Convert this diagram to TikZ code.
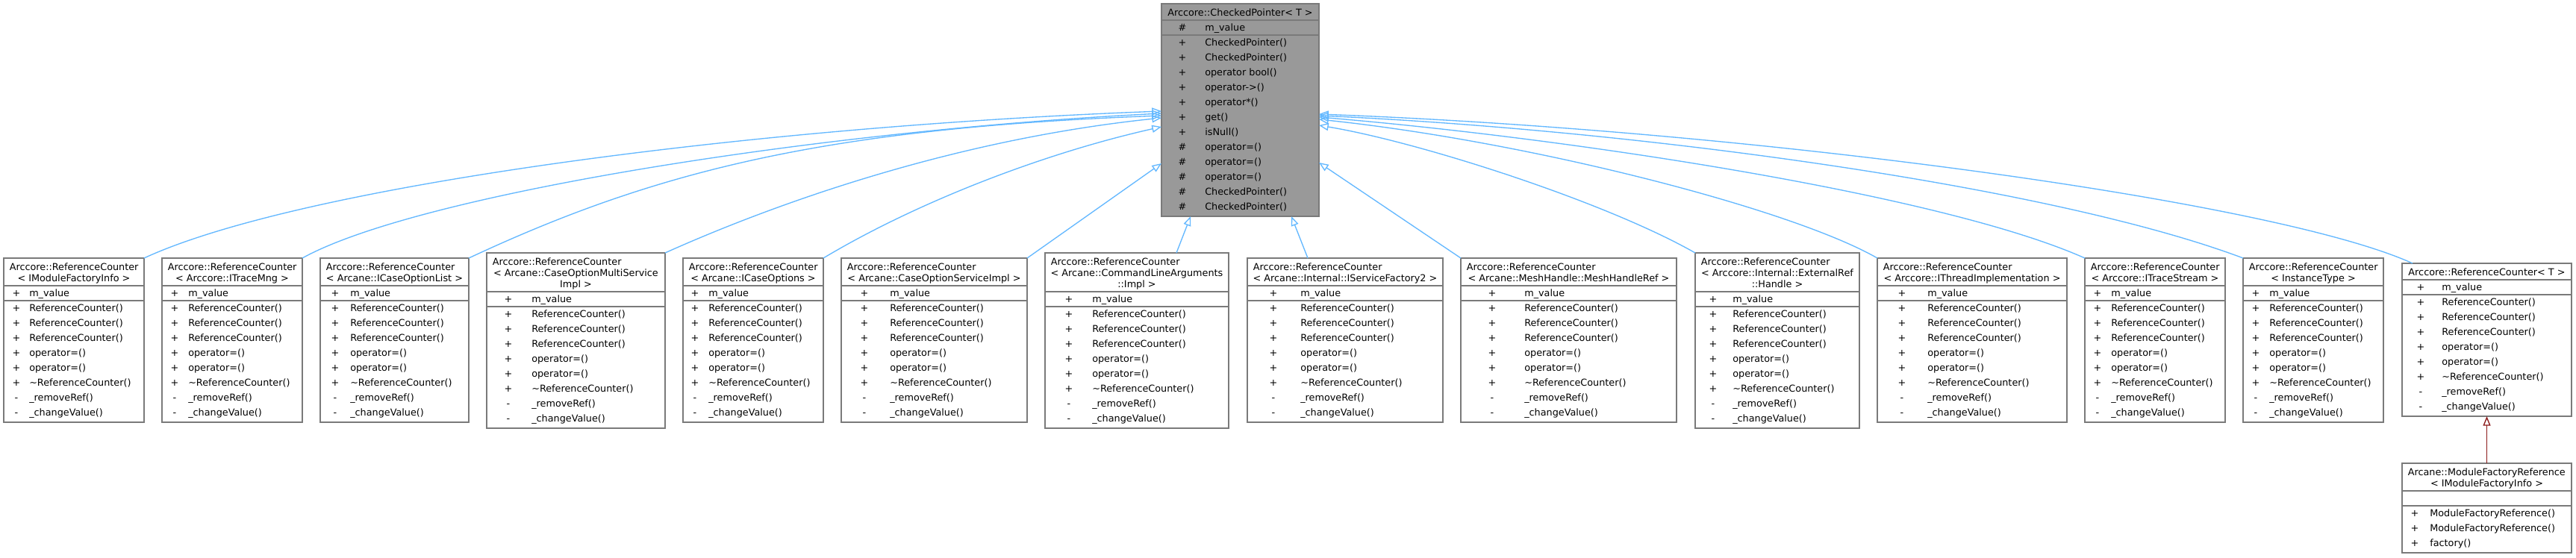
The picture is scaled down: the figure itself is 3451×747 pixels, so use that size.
\documentclass[tikz,border=0pt]{standalone}
\usepackage{fontspec}
\setmainfont{DejaVu Sans}
\usetikzlibrary{arrows.meta,calc}
\definecolor{edgeblue}{HTML}{63B8FF}
\definecolor{edgered}{HTML}{8B1A1A}
\definecolor{boxgray}{HTML}{7A7A7A}
\definecolor{topfill}{HTML}{999999}
\tikzset{
  umlbox/.style={draw=boxgray, line width=1pt, fill=white, inner sep=0pt, outer sep=0pt, anchor=north west},
  sepline/.style={draw=boxgray, line width=1pt},
  txt/.style={inner sep=0pt, font=\fontsize{9.6pt}{11.25pt}\selectfont},
  inh/.style={draw=edgeblue, line width=1pt, -{Triangle[open, length=9.5pt, width=7.5pt]}},
  inhred/.style={draw=edgered, line width=1pt, -{Triangle[open, length=9.5pt, width=7.5pt]}},
}
% #1 name, #2 left, #3 right, #4 top, #5 extra style, #6 symbol offset, #7 text offset, #8 title lines, #9 attributes
\newcommand\classbox[9]{%
  \foreach \tl [count=\i] in {#8} {\xdef\ntl{\i}}%
  \foreach \msym/\mtxt [count=\i] in \meths {\xdef\nme{\i}}%
  \pgfmathsetmacro\sepA{#4+7+15*\ntl}%
  \pgfmathsetmacro\sepB{\sepA+20}%
  \pgfmathsetmacro\boxbot{\sepB+20*\nme+3}%
  \node[umlbox,#5,minimum width={(#3-#2)*0.75pt},minimum height={(\boxbot-#4)*0.75pt}] (#1) at (#2,#4) {};%
  \draw[sepline] (#2,\sepA) -- (#3,\sepA);%
  \draw[sepline] (#2,\sepB) -- (#3,\sepB);%
  \foreach \tl [count=\i] in {#8} {%
    \pgfmathsetmacro\yy{#4+12+15*(\i-1)+4.5}%
    \ifnum\i=1 \ifnum\ntl>1
      \node[txt,anchor=base west] (#1-t\i) at (#2+7.5,\yy) {\tl};
    \else
      \node[txt,anchor=base] (#1-t\i) at ({(#2+#3)/2},\yy) {\tl};
    \fi\else
      \node[txt,anchor=base] (#1-t\i) at ({(#2+#3)/2},\yy) {\tl};
    \fi
  }%
  \if\relax\detokenize{#9}\relax\else
  \foreach \msym/\mtxt [count=\i] in {#9} {%
    \pgfmathsetmacro\yy{\sepA+14.5+20*(\i-1)}%
    \node[txt,anchor=base] (#1-as\i) at (#2+#6,\yy) {\msym};
    \node[txt,anchor=base west] (#1-a\i) at (#2+#7,\yy) {\mtxt};
  }\fi
  \foreach \msym/\mtxt [count=\i] in \meths {%
    \pgfmathsetmacro\yy{\sepB+14.5+20*(\i-1)}%
    \node[txt,anchor=base] (#1-ms\i) at (#2+#6,\yy) {\msym};
    \node[txt,anchor=base west] (#1-m\i) at (#2+#7,\yy) {\mtxt};
  }%
}
\def\rcmeths{+/ReferenceCounter(), +/ReferenceCounter(), +/ReferenceCounter(), +/operator=(), +/operator=(), +/\textasciitilde ReferenceCounter(), -/\_removeRef(), -/\_changeValue()}
\begin{document}
\begin{tikzpicture}[x=0.75pt,y=-0.75pt]
\fill[white] (0,0) rectangle (3451,747);
\useasboundingbox (0,0) rectangle (3451,747);

\def\meths{+/CheckedPointer(), +/CheckedPointer(), +/operator bool(), +/operator->(), +/operator*(), +/get(), +/isNull(), \#/operator=(), \#/operator=(), \#/operator=(), \#/CheckedPointer(), \#/CheckedPointer()}
\classbox{top}{1556}{1767}{5}{fill=topfill}{28}{58}{Arccore::CheckedPointer< T >}{\#/m\_value}

\let\meths\rcmeths
\classbox{c1}{5}{193}{346}{}{17}{34}{Arccore::ReferenceCounter, < IModuleFactoryInfo >}{+/m\_value}
\classbox{c2}{217}{405}{346}{}{17}{35}{Arccore::ReferenceCounter, < Arccore::ITraceMng >}{+/m\_value}
\classbox{c3}{429}{628}{346}{}{20}{40}{Arccore::ReferenceCounter, < Arcane::ICaseOptionList >}{+/m\_value}
\classbox{c4}{652}{891}{339}{}{29}{60}{Arccore::ReferenceCounter, < Arcane::CaseOptionMultiService, Impl >}{+/m\_value}
\classbox{c5}{915}{1103}{346}{}{16}{34}{Arccore::ReferenceCounter, < Arcane::ICaseOptions >}{+/m\_value}
\classbox{c6}{1127}{1376}{346}{}{31}{65}{Arccore::ReferenceCounter, < Arcane::CaseOptionServiceImpl >}{+/m\_value}
\classbox{c7}{1400}{1646}{339}{}{32}{63}{Arccore::ReferenceCounter, < Arcane::CommandLineArguments, ::Impl >}{+/m\_value}
\classbox{c8}{1671}{1933}{346}{}{35}{71}{Arccore::ReferenceCounter, < Arcane::Internal::IServiceFactory2 >}{+/m\_value}
\classbox{c9}{1957}{2246}{346}{}{42}{85}{Arccore::ReferenceCounter, < Arcane::MeshHandle::MeshHandleRef >}{+/m\_value}
\classbox{c10}{2271}{2491}{339}{}{24}{50}{Arccore::ReferenceCounter, < Arccore::Internal::ExternalRef, ::Handle >}{+/m\_value}
\classbox{c11}{2515}{2769}{346}{}{33}{67}{Arccore::ReferenceCounter, < Arccore::IThreadImplementation >}{+/m\_value}
\classbox{c12}{2793}{2981}{346}{}{17}{35}{Arccore::ReferenceCounter, < Arccore::ITraceStream >}{+/m\_value}
\classbox{c13}{3005}{3193}{346}{}{17}{35}{Arccore::ReferenceCounter, < InstanceType >}{+/m\_value}
\classbox{c14}{3218}{3445}{353}{}{25}{53}{Arccore::ReferenceCounter< T >}{+/m\_value}
\def\meths{+/ModuleFactoryReference(), +/ModuleFactoryReference(), +/factory()}
\classbox{c15}{3218}{3445}{621}{}{17}{37}{Arcane::ModuleFactoryReference, < IModuleFactoryInfo >}{}

% connectors
\draw[inh] (c1.north east) .. controls (400,250) and (1000,170) .. (top.west |- 0,149);
\draw[inh] (c2.north east) .. controls (560,260) and (1100,175) .. (top.west |- 0,152);
\draw[inh] (c3.north east) .. controls (878,229) and (1106,172) .. (top.west |- 0,155);
\draw[inh] (c4.north east) .. controls (1000,290) and (1250,190) .. (top.west |- 0,158);
\draw[inh] (c5.north east) .. controls (1230,270) and (1400,205) .. (top.west |- 0,170);
\draw[inh] (c6.north east) -- (top.west |- 0,219);
\draw[inh] ($(c7.north west)+(176,0)$) -- ($(top.south west)+(39,0)$);
\draw[inh] ($(c8.north west)+(81,0)$) -- ($(top.south west)+(174,0)$);
\draw[inh] (c9.north west) -- (top.east |- 0,218);
\draw[inh] (c10.north west) .. controls (2150,270) and (1900,190) .. (top.east |- 0,168);
\draw[inh] (c11.north west) .. controls (2400,280) and (2050,190) .. (top.east |- 0,160);
\draw[inh] (c12.north west) .. controls (2600,260) and (2100,185) .. (top.east |- 0,157);
\draw[inh] (c13.north west) .. controls (2750,250) and (2200,175) .. (top.east |- 0,155);
\draw[inh] ($(c14.north west)+(14,0)$) .. controls (3050,270) and (2350,175) .. (top.east |- 0,153);
\draw[inhred] (c15.north) -- (c14.south);
\end{tikzpicture}
\end{document}
